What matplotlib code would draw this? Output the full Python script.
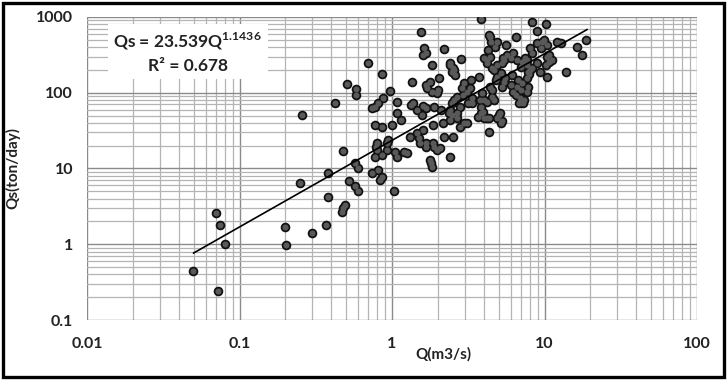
import matplotlib
matplotlib.use("Agg")
import matplotlib.pyplot as plt
from matplotlib.patches import Rectangle
import numpy as np

Q = [0.0495, 0.070, 0.0745, 0.080, 0.072, 0.199, 0.203, 0.30, 0.37, 0.38,
     0.47, 0.48, 0.49, 0.257, 0.249, 0.42, 0.51, 0.58, 0.58, 0.48,
     0.38, 0.57, 0.60, 0.52, 0.57, 0.60,
     0.70, 0.86, 0.97, 0.87, 0.81, 0.775, 0.74, 1.08, 1.08, 1.14,
     0.77, 0.86, 1.0, 0.80, 0.93, 0.94, 0.80, 0.775, 0.86, 0.93,
     1.05, 1.08, 1.20, 0.74, 0.81, 0.86, 0.84, 1.03, 0.79,
     1.55, 1.62, 1.67, 1.60, 2.19, 1.35, 1.77, 1.70, 1.83, 2.0,
     1.83, 2.03, 1.67, 1.97, 1.37, 1.33, 1.46, 1.67, 1.88, 2.09,
     1.57, 1.60, 1.60, 1.86, 2.16, 2.40, 1.31, 1.46, 1.53, 1.50,
     1.67, 1.67, 1.88, 1.86, 1.97, 2.07, 1.25, 1.77, 1.83, 1.80,
     2.40, 2.2, 2.5, 2.40, 2.5, 2.59, 2.47, 2.40, 2.55, 2.83,
     2.40, 2.67, 2.37, 2.47, 2.67, 2.79,
     2.55, 2.67, 2.88, 3.10, 3.35, 3.25, 2.92, 2.47, 3.35, 3.15,
     2.97, 2.79, 3.10, 2.97, 3.30, 3.72, 3.67, 3.95, 4.2, 3.84,
     4.0, 4.33, 4.88, 5.03, 5.26, 5.19, 5.11, 4.33, 3.84, 4.01,
     3.89, 4.53, 4.67, 4.40, 3.78, 4.2, 4.53, 5.26, 3.84, 4.33,
     4.40, 4.46, 4.88, 4.74, 4.27, 4.40, 4.2, 4.01, 4.2, 4.53,
     4.88, 4.67, 5.19, 5.26, 5.34, 5.42, 4.88, 4.81, 5.5, 5.42,
     5.59, 6.50, 5.7, 6.2, 6.6, 7.1, 7.4, 6.03, 7.3, 7.01,
     7.68, 8.03, 6.1, 6.7, 6.6, 6.2, 6.9, 6.03, 7.68, 7.01,
     7.68, 7.34, 6.80, 6.50, 7.1, 7.8, 7.2, 8.27, 10.2, 8.93,
     8.93, 9.93, 10.4, 9.49, 9.6, 8.03, 8.27, 7.68, 12.1, 12.8,
     10.7, 11.2, 10.7, 10.4, 10.2, 8.93, 8.27, 7.91, 7.8, 9.3,
     10.4, 13.8, 16.3, 18.7, 17.6]

Qs = [0.44, 2.58, 1.79, 1.0, 0.24, 1.68, 0.97, 1.40, 1.79, 4.2,
      2.7, 3.0, 3.3, 50.7, 6.4, 73, 130, 112, 93, 17,
      8.7, 11.7, 10.1, 6.8, 5.8, 5.1,
      247, 177, 104, 85, 73, 65, 63, 75, 54, 44,
      37, 35, 38, 22, 22, 24, 17.5, 14.2, 15, 17.5,
      16.5, 14.2, 16.5, 8.7, 9.5, 7.7, 7.0, 5.0, 19,
      634, 389, 334, 315, 378, 138, 138, 115, 102, 109,
      232, 156, 126, 98, 73, 69, 59, 63, 65, 59,
      51, 66, 32, 37, 40, 44, 26, 29, 22, 25,
      19, 22, 19, 22, 17.5, 18.5, 16, 12.9, 10.4, 11.8,
      14.2, 26, 26, 247, 212, 171, 188, 232, 199, 279,
      59, 54, 54, 51, 46, 65,
      80, 88, 115, 102, 73, 115, 93, 73, 85, 73,
      40, 35, 40, 134, 147, 161, 48, 56, 46, 54,
      47, 47, 46, 51, 43, 40, 54, 30, 65, 80,
      99, 109, 80, 119, 80, 75, 88, 119, 941, 579,
      545, 468, 468, 402, 367, 296, 270, 287, 247, 212,
      232, 199, 182, 247, 287, 270, 161, 147, 156, 138,
      427, 545, 315, 334, 270, 254, 287, 287, 265, 218,
      232, 199, 171, 147, 119, 102, 85, 126, 156, 109,
      102, 80, 73, 93, 134, 119, 73, 859, 809, 654,
      454, 497, 427, 389, 468, 389, 334, 270, 468, 454,
      315, 270, 254, 296, 232, 247, 212, 177, 188, 188,
      161, 188, 402, 497, 315]

# power-law trend line shown on the chart
coef = 23.539
expo = 1.1436
fit_range = [0.05, 19.0]

x_ticks = [0.01, 0.1, 1, 10, 100]
x_labels = ["0.01", "0.1", "1", "10", "100"]
y_ticks = [0.1, 1, 10, 100, 1000]
y_labels = ["0.1", "1", "10", "100", "1000"]

plt.rcParams['font.family'] = ['Lato', 'DejaVu Sans']
plt.rcParams['mathtext.fontset'] = 'custom'
plt.rcParams['mathtext.rm'] = 'Lato:bold'
plt.rcParams['mathtext.bf'] = 'Lato:bold'

fig = plt.figure(figsize=(7.28, 3.80), dpi=100)
ax = fig.add_axes([87 / 728, 1 - 320 / 380, 610 / 728, 303 / 380])

ax.set_xscale('log')
ax.set_yscale('log')
ax.set_xlim(0.01, 100)
ax.set_ylim(0.1, 1000)

ax.grid(True, which='major', color='#8a8a8a', linewidth=1.0)
ax.grid(True, which='minor', color='#b4b4b4', linewidth=0.9)
ax.set_axisbelow(True)
for s in ax.spines.values():
    s.set_visible(False)
ax.tick_params(which='both', length=0)

ax.set_xticks(x_ticks)
ax.set_xticklabels(x_labels)
ax.set_yticks(y_ticks)
ax.set_yticklabels(y_labels)
ax.tick_params(axis='x', pad=12, labelsize=11.5)
ax.tick_params(axis='y', pad=10, labelsize=11.5)
for lab in ax.get_xticklabels() + ax.get_yticklabels():
    lab.set_fontweight('bold')
    lab.set_color('#222222')

# points: black underlay then grey fill, so overlapping dots merge into blobs
ax.scatter(Q, Qs, s=48, color='#111111', zorder=3, linewidths=0)
ax.scatter(Q, Qs, s=19, color='#595959', zorder=4, linewidths=0)

xf = np.geomspace(fit_range[0], fit_range[1], 50)
ax.plot(xf, coef * xf ** expo, color='black', linewidth=1.2, zorder=5)

ax.text(0.165, 0.955, "Qs = 23.539Q$^{1.1436}$\nR\u00b2 = 0.678",
        transform=ax.transAxes, ha='center', va='top', fontsize=12.5,
        fontweight='bold', color='#222222', linespacing=1.45,
        bbox=dict(facecolor='white', edgecolor='none', pad=4), zorder=6)

ax.set_xlabel("Q(m3/s)", fontsize=11, fontweight='bold', color='#222222')
ax.xaxis.set_label_coords(0.585, -0.09)
ax.set_ylabel("Qs(ton/day)", fontsize=11, fontweight='bold', color='#222222')
ax.yaxis.set_label_coords(-0.11, 0.5)

fig.patches.append(Rectangle((0.004, 0.008), 0.99, 0.984, transform=fig.transFigure,
                             fill=False, edgecolor='black', linewidth=2.4))

fig.savefig("out.png", dpi=100)
